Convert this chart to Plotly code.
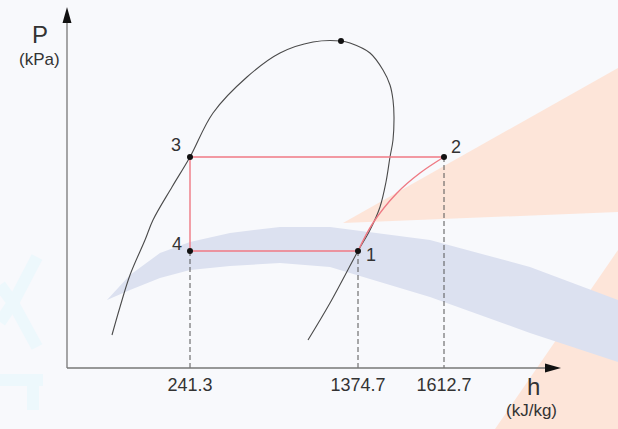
import plotly.graph_objects as go

# ---------------- data (schematic diagram units) ----------------
# saturation dome
dome_h = [45, 53, 63, 78, 86, 105, 123, 146, 180, 213, 246, 274,
          283, 303, 316, 323, 326, 327, 326, 323, 319, 313, 303, 291, 263, 241]
dome_p = [33, 61, 93, 128, 148, 181, 211, 255, 291, 315, 326, 327,
          325, 315, 298, 283, 268, 251, 228, 211, 186, 161, 138, 117, 65, 28]
critical_h = [274]
critical_p = [327]

# cycle state points
state_names = ["1", "2", "3", "4"]
state_h = [291, 377, 123, 123]
state_p = [117, 211, 211, 117]

# compression path 1 -> 2
comp_h = [291, 306, 330, 353, 377]
comp_p = [117, 145, 175, 195, 211]

# h-axis tick labels (kJ/kg) at the states 4/3, 1, 2
tick_pos = [123, 291, 377]
tick_labels = ["241.3", "1374.7", "1612.7"]

# ---------------- layout geometry ----------------
W, H = 618, 429
ML, MR, MT, MB = 67, 58, 8, 61
PW, PH = W - ML - MR, H - MT - MB
X_MAX, Y_MAX = PW, PH

FONT = "Liberation Sans, Arial, sans-serif"
TXT = "#333333"
RED = "#ef7a84"


def pp(px, py):
    """pixel -> paper coordinates (for decorative background shapes)."""
    return (px - ML) / PW, (MT + PH - py) / PH


def path(pts, close=True):
    s = ""
    for i, (px, py) in enumerate(pts):
        x, y = pp(px, py)
        s += ("M" if i == 0 else "L") + f"{x:.4f},{y:.4f} "
    return s + ("Z" if close else "")


fig = go.Figure()

# saturation dome
fig.add_trace(go.Scatter(x=dome_h, y=dome_p, mode="lines",
                         line=dict(color="#4a4a4a", width=1.1, shape="spline", smoothing=1.0),
                         hoverinfo="skip", showlegend=False))

# cycle: 2 -> 3 -> 4 -> 1
fig.add_trace(go.Scatter(x=[state_h[1], state_h[2], state_h[3], state_h[0]],
                         y=[state_p[1], state_p[2], state_p[3], state_p[0]],
                         mode="lines", line=dict(color=RED, width=1.4),
                         hoverinfo="skip", showlegend=False))
# compression 1 -> 2
fig.add_trace(go.Scatter(x=comp_h, y=comp_p, mode="lines",
                         line=dict(color=RED, width=1.4, shape="spline"),
                         hoverinfo="skip", showlegend=False))

# dashed projections to the h axis (from states 4, 1, 2)
for i in (3, 0, 1):
    fig.add_trace(go.Scatter(x=[state_h[i], state_h[i]], y=[state_p[i], 0],
                             mode="lines", line=dict(color="#555555", width=1, dash="5px,3px"),
                             hoverinfo="skip", showlegend=False))

# state points + critical point
fig.add_trace(go.Scatter(x=state_h + critical_h, y=state_p + critical_p, mode="markers",
                         marker=dict(color="#111111", size=6),
                         hoverinfo="skip", showlegend=False))

# state labels
offsets = {"1": (13, -4), "2": (12, 10), "3": (-14, 12), "4": (-13, 7)}
for n, hx, py in zip(state_names, state_h, state_p):
    dx, dy = offsets[n]
    fig.add_annotation(x=hx, y=py, text=n, showarrow=False, xshift=dx, yshift=dy,
                       xanchor="center", yanchor="middle",
                       font=dict(family=FONT, size=18, color=TXT))


def label(px, py, text, size):
    x, y = pp(px, py)
    fig.add_annotation(xref="paper", yref="paper", x=x, y=y, text=text, showarrow=False,
                       xanchor="center", yanchor="middle",
                       font=dict(family=FONT, size=size, color=TXT))


# axis titles
label(40, 35, "P", 24)
label(39, 59, "(kPa)", 17)
label(533, 386, "h", 24)
label(531, 410, "(kJ/kg)", 17)

shapes = []
# ---- decorative watermark background ----
shapes.append(dict(type="path", xref="paper", yref="paper", layer="below", line=dict(width=0),
                   fillcolor="#fde5d9",
                   path=path([(343, 223), (618, 68), (618, 212)])))
shapes.append(dict(type="path", xref="paper", yref="paper", layer="below", line=dict(width=0),
                   fillcolor="#fde5d9",
                   path=path([(495, 429), (618, 250), (618, 429)])))
band_top = [(107, 300), (130, 275), (160, 253), (190, 242), (230, 233), (280, 227),
            (330, 227), (430, 240), (530, 267), (618, 300)]
band_bot = [(618, 362), (530, 333), (430, 297), (330, 267), (280, 263), (230, 266),
            (190, 270), (160, 278), (130, 290)]
shapes.append(dict(type="path", xref="paper", yref="paper", layer="below", line=dict(width=0),
                   fillcolor="#dce1f0", path=path(band_top + band_bot)))
for (a, b) in [((37, 257), (13, 303)), ((13, 303), (37, 347)), ((13, 303), (0, 285)),
               ((13, 303), (0, 322)), ((0, 380), (43, 380)), ((33, 380), (33, 410))]:
    x0, y0 = pp(*a)
    x1, y1 = pp(*b)
    shapes.append(dict(type="line", xref="paper", yref="paper", layer="below",
                       x0=x0, y0=y0, x1=x1, y1=y1, line=dict(color="#edf8fc", width=12)))

# ---- axes with arrow heads ----
AX = "#777777"
shapes.append(dict(type="line", xref="paper", yref="paper", x0=0, y0=0, x1=0, y1=pp(0, 20)[1],
                   line=dict(color=AX, width=1.3)))
shapes.append(dict(type="line", xref="paper", yref="paper", x0=0, y0=0, x1=pp(548, 0)[0], y1=0,
                   line=dict(color=AX, width=1.3)))
shapes.append(dict(type="path", xref="paper", yref="paper", line=dict(width=0), fillcolor="#111111",
                   path=path([(67, 7), (62.5, 23), (71.5, 23)])))
shapes.append(dict(type="path", xref="paper", yref="paper", line=dict(width=0), fillcolor="#111111",
                   path=path([(561, 368), (545, 363.5), (545, 372.5)])))

fig.update_layout(
    width=W, height=H,
    margin=dict(l=ML, r=MR, t=MT, b=MB, pad=0),
    paper_bgcolor="#f8f9fc", plot_bgcolor="rgba(0,0,0,0)",
    shapes=shapes,
    xaxis=dict(range=[0, X_MAX], showgrid=False, zeroline=False, showline=False,
               tickmode="array", tickvals=tick_pos, ticktext=tick_labels, ticks="",
               ticklabelstandoff=4,
               tickfont=dict(family=FONT, size=18, color=TXT), fixedrange=True),
    yaxis=dict(range=[0, Y_MAX], showgrid=False, zeroline=False, showline=False,
               showticklabels=False, ticks="", fixedrange=True),
    showlegend=False,
)

fig.write_html("out.html", config={"displayModeBar": False},
               post_script="document.body.style.margin='0';document.body.style.overflow='hidden';")
